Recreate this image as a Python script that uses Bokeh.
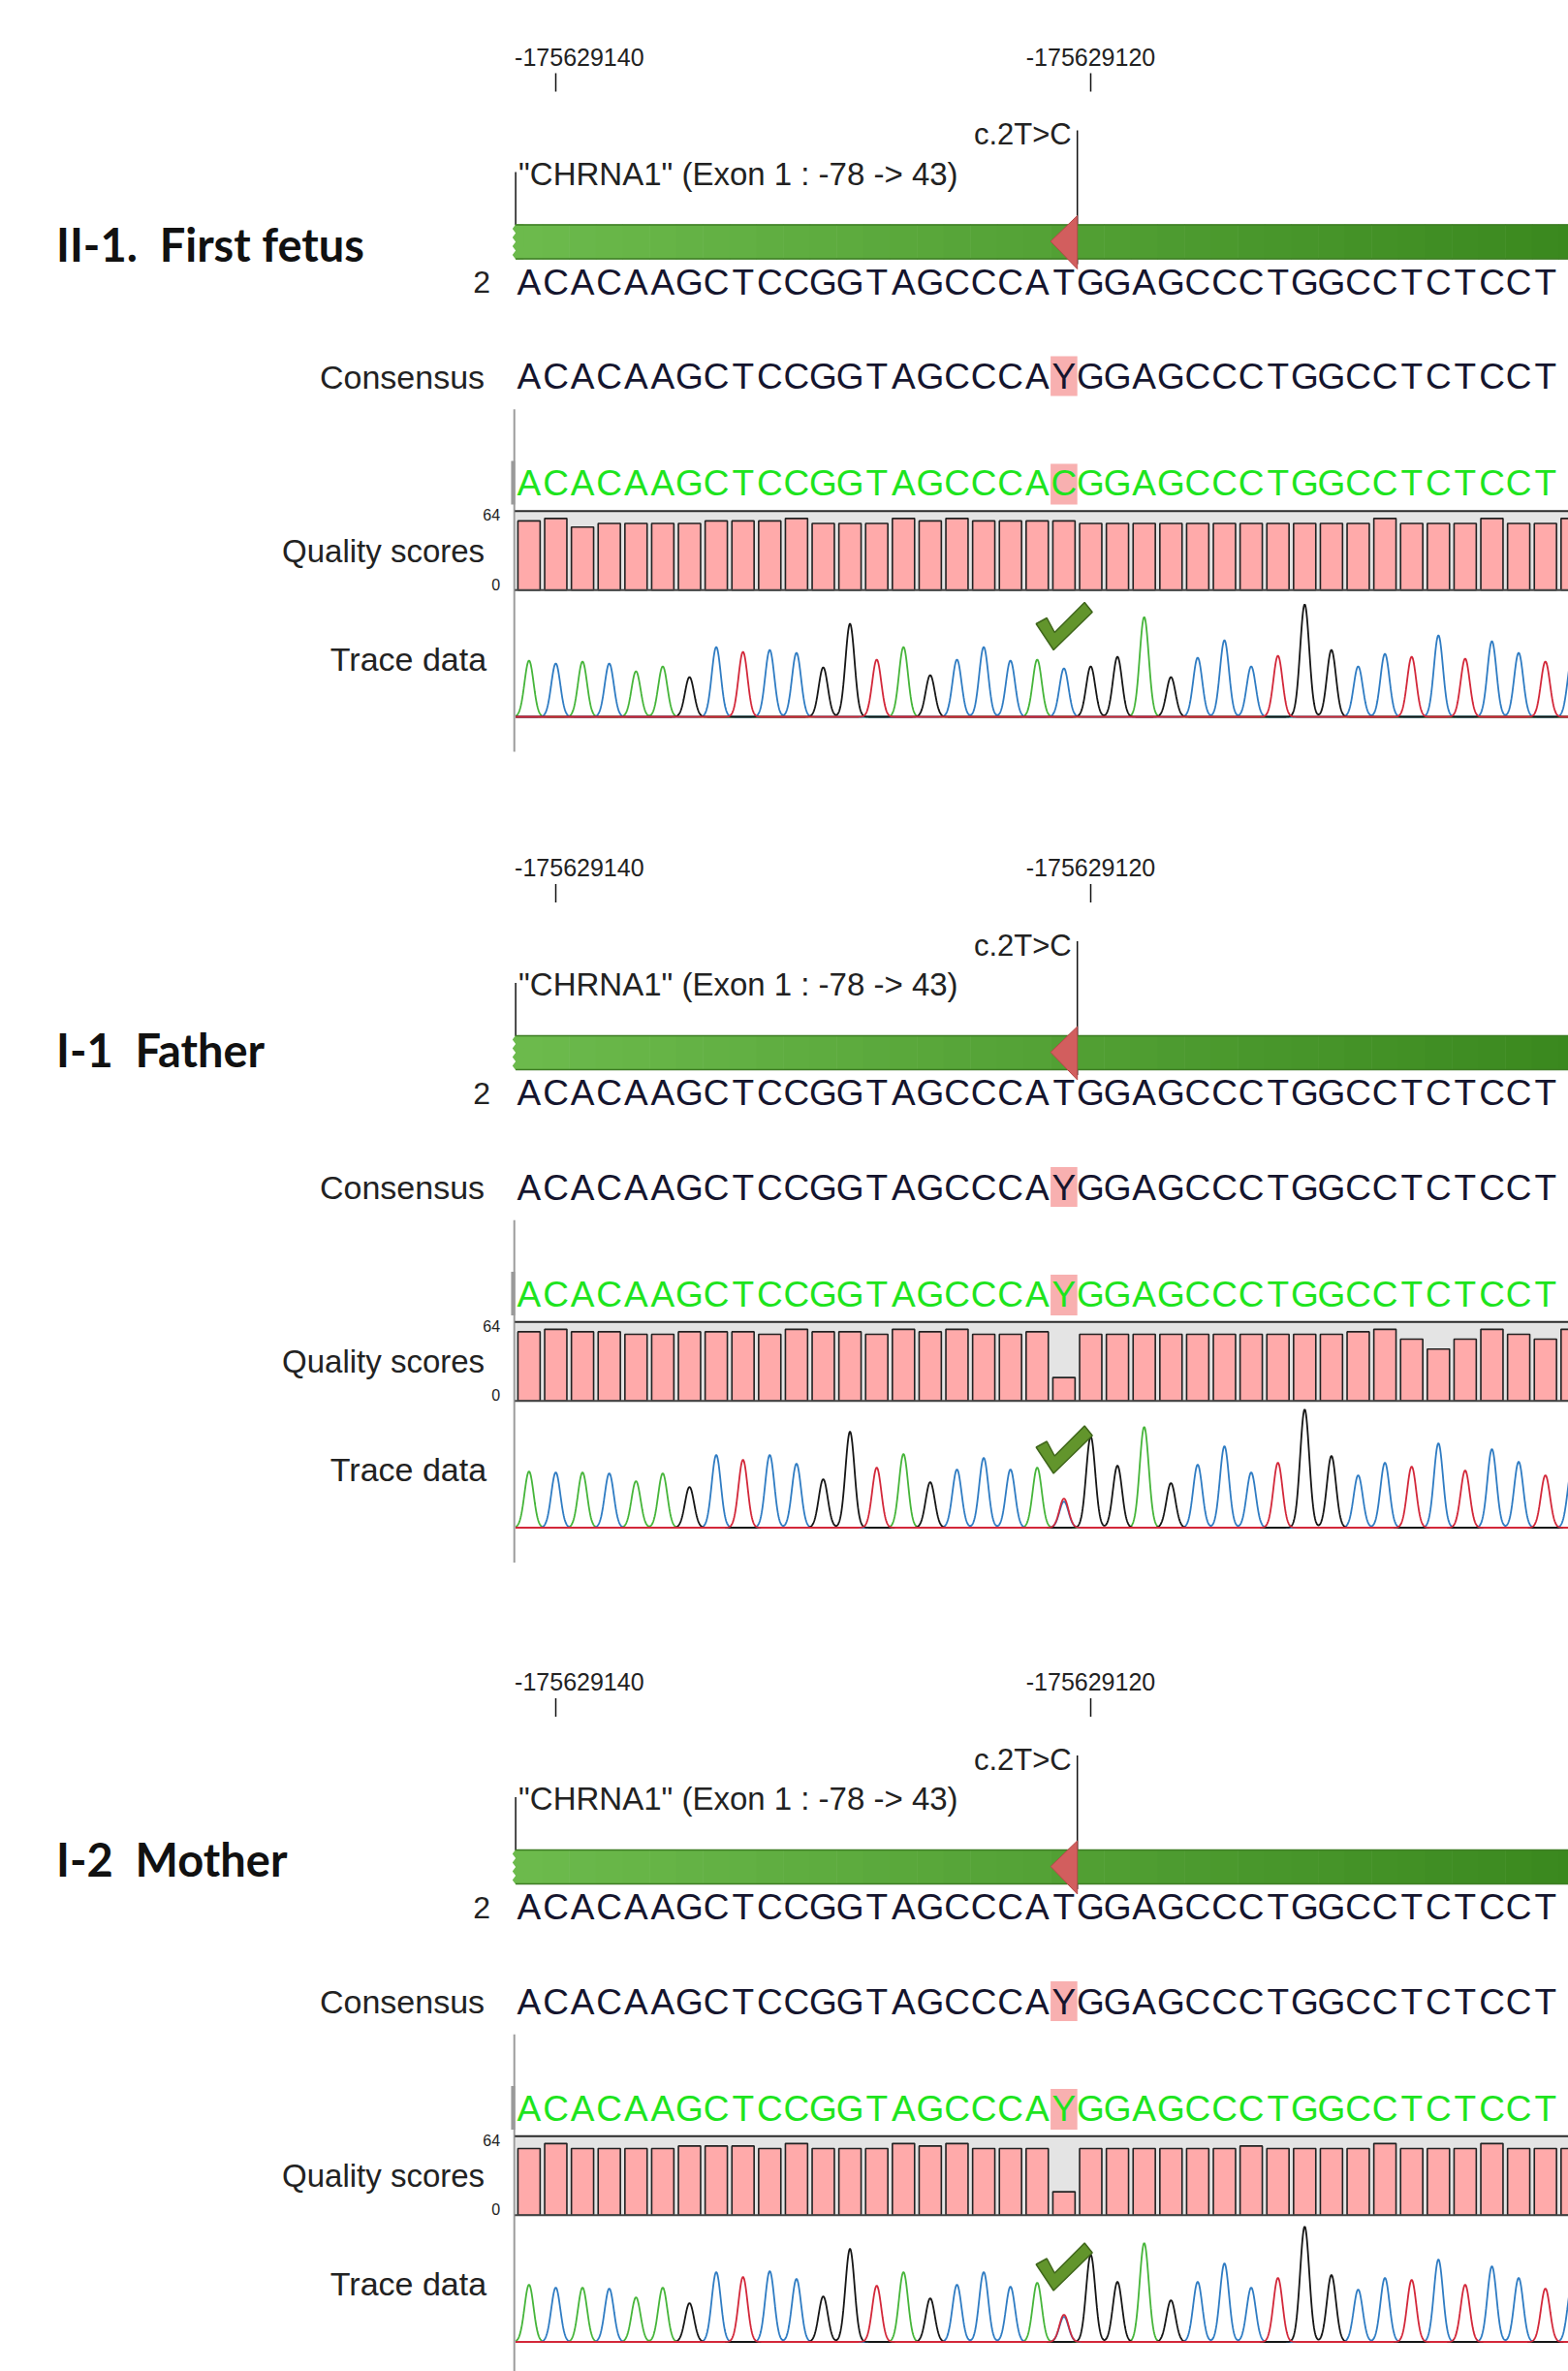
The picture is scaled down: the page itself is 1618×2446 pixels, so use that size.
import numpy as np
from bokeh.plotting import figure
from bokeh.models import Range1d
from bokeh.core.properties import value
from bokeh.embed import file_html
from bokeh.resources import INLINE

# ---------------- data ----------------
sample_labels = ["II-1. \u00a0First fetus", "I-1 \u00a0Father", "I-2 \u00a0Mother"]
reference_seq = "ACACAAGCTCCGGTAGCCCATGGAGCCCTGGCCTCTCCTC"
consensus_seq = "ACACAAGCTCCGGTAGCCCAYGGAGCCCTGGCCTCTCCTC"
read_seqs = [
    "ACACAAGCTCCGGTAGCCCACGGAGCCCTGGCCTCTCCTC",
    "ACACAAGCTCCGGTAGCCCAYGGAGCCCTGGCCTCTCCTC",
    "ACACAAGCTCCGGTAGCCCAYGGAGCCCTGGCCTCTCCTC",
]
sequence_number = "2"
first_base_coord = -175629141
ruler_ticks = [-175629140, -175629120]
exon_label = '"CHRNA1" (Exon 1 : -78 -> 43)'
exon_start_index = 0
variant_label = "c.2T>C"
variant_index = 20
quality_max = 64

quality_fetus = [56, 58, 51, 54, 54, 54, 54, 56, 56, 56, 58, 54, 54, 54, 58, 56, 58, 56, 56, 56,
                 56, 54, 54, 54, 54, 54, 54, 54, 54, 54, 54, 54, 58, 54, 54, 54, 58, 54, 54, 58]
quality_father = [56, 58, 56, 56, 54, 54, 56, 56, 56, 54, 58, 56, 56, 54, 58, 56, 58, 54, 54, 56,
                  19, 54, 54, 54, 54, 54, 54, 54, 54, 54, 54, 56, 58, 50, 42, 50, 58, 54, 50, 58]
quality_mother = [54, 58, 54, 54, 54, 54, 56, 56, 56, 54, 58, 54, 54, 54, 58, 56, 58, 54, 54, 54,
                  19, 54, 54, 54, 54, 54, 54, 56, 54, 54, 54, 54, 58, 54, 54, 54, 58, 54, 54, 54]

peak_channels = "ACACAAGCTCCGGTAGCCCACGGAGCCCTGGCCTCTCCTC"
peak_fetus = [58, 55, 57, 55, 47, 52, 41, 72, 67, 69, 66, 51, 96, 59, 72, 43, 59, 72, 58, 59,
              50, 52, 62, 103, 41, 61, 79, 52, 63, 116, 69, 52, 65, 62, 84, 60, 78, 66, 57, 62]
peak_father = [58, 57, 57, 56, 48, 56, 42, 75, 70, 75, 66, 50, 99, 62, 76, 47, 60, 72, 60, 62,
               27, 94, 64, 104, 46, 65, 84, 57, 67, 122, 74, 54, 67, 63, 87, 59, 81, 68, 54, 62]
peak_mother = [59, 56, 56, 55, 46, 56, 40, 72, 67, 73, 65, 47, 96, 58, 72, 45, 59, 72, 57, 61,
               26, 90, 62, 102, 43, 62, 81, 56, 66, 119, 69, 54, 66, 64, 85, 59, 78, 66, 55, 60]
secondary_peaks = [[], [(20, "T", 30)], [(20, "T", 28)]]
check_height = [69, 56, 53]

qualities = [quality_fetus, quality_father, quality_mother]
peaks = [peak_fetus, peak_father, peak_mother]

# ---------------- layout / style ----------------
W, H = 1618, 2446
BOTTOM = H
PX0 = 531.6          # page x of the first base's left edge
PITCH = 27.6         # pixels per base
PANEL_OFF = [0, 836.5, 1676.5]
LABEL_CENTERS = [251, 1082.5, 1917.5]

SANS = value("Liberation Sans")
BOLD = value("Lato")
TXT = "#222222"
SEQ_COL = "#15152e"
READ_COL = "#1ee41e"
HL_COL = "#f8b0b0"
CH_COL = {"A": "#46b53a", "C": "#2f7cc3", "G": "#161616", "T": "#d3283a"}

Q_ZERO, Q_TOP = 608.3, 526.7
Q_PPU = (Q_ZERO - Q_TOP) / quality_max
T_ZERO = 739.0


def track_range(y_zero, ppu):
    s = -(BOTTOM - y_zero) / ppu
    return Range1d(start=s, end=s + H / ppu)


ranges = {}
for k, off in enumerate(PANEL_OFF):
    ranges[f"q{k}"] = track_range(Q_ZERO + off, Q_PPU)
    ranges[f"t{k}"] = track_range(T_ZERO + off, 1.0)

p = figure(width=W, height=H,
           x_range=Range1d(-PX0 / PITCH, (W - PX0) / PITCH),
           y_range=Range1d(BOTTOM, 0),
           output_backend="svg", toolbar_location=None, tools="",
           x_axis_location=None, y_axis_location=None,
           min_border=0, outline_line_color=None,
           background_fill_color="white", border_fill_color="white")
p.grid.visible = False
p.extra_y_ranges = ranges

n = len(reference_seq)
idx = np.arange(n)
centers = idx + 0.5
# letters whose glyph fits fully inside the view
n_vis = int((W - PX0) / PITCH - 0.95) + 1


def lerp(c1, c2, t):
    return "#%02x%02x%02x" % tuple(int(round(a + (b - a) * t)) for a, b in zip(c1, c2))


def mtext(x, y, text, size, color=TXT, align="center", font=SANS, **kw):
    p.text(x=x, y=y, text=text, text_font=font, text_font_size=size, text_color=color,
           text_align=align, text_baseline="middle", **kw)


for k, off in enumerate(PANEL_OFF):
    qn, tn = f"q{k}", f"t{k}"

    # sample label
    mtext([0], [LABEL_CENTERS[k]], [sample_labels[k]], "47px", color="#111111", align="left",
          font=BOLD, text_font_style="bold", x_offset=57.5 - PX0)

    # ruler
    tick_x = [t - first_base_coord + 0.5 for t in ruler_ticks]
    p.segment(x0=tick_x, x1=tick_x, y0=[75 + off] * 2, y1=[94 + off] * 2,
              line_color="#111111", line_width=1.5)
    for t, tx in zip(ruler_ticks, tick_x):
        label = "%d" % t
        if tx - 2.4 < 0:
            mtext([0], [58.3 + off], [label], "25px", align="left", x_offset=-1)
        else:
            mtext([tx], [58.3 + off], [label], "25px", align="center")

    # variant annotation line + label
    vx = variant_index + 1
    p.segment(x0=[vx], x1=[vx], y0=[134 + off], y1=[272 + off], line_color="#111111", line_width=1.5)
    mtext([vx], [138.3 + off], [variant_label], "31px", align="right", x_offset=-6)

    # exon annotation line + label
    ex = exon_start_index
    p.segment(x0=[ex], x1=[ex], y0=[177 + off], y1=[232 + off], line_color="#111111", line_width=1.5)
    mtext([ex], [178.5 + off], [exon_label], "33px", align="left", x_offset=3)

    # green exon bar (gradient as strips)
    bar_top, bar_bot = 231 + off, 267 + off
    cols = [lerp((108, 186, 76), (58, 136, 30), i / (n - 1)) for i in idx]
    p.quad(left=idx, right=idx + 1.02, top=[bar_top] * n, bottom=[bar_bot] * n,
           fill_color=cols, line_color=None)
    zz_y = np.linspace(bar_top, bar_bot, 9)
    zz_x = [0.0 if j % 2 == 0 else -0.12 for j in range(9)]
    p.patch(x=[0.3] + zz_x + [0.3], y=[bar_top] + list(zz_y) + [bar_bot],
            fill_color=cols[0], line_color=None)
    p.segment(x0=[0, 0], x1=[n + 1, n + 1], y0=[bar_top + 0.5, bar_bot - 0.5],
              y1=[bar_top + 0.5, bar_bot - 0.5], line_color="#3e7d24", line_width=1.5)
    # variant arrow
    p.patch(x=[variant_index + 1, variant_index + 1, variant_index],
            y=[222 + off, 277 + off, 248.5 + off],
            fill_color="#d25e5e", line_color="#b54848", line_width=1)

    # reference sequence row
    mtext([0], [290.8 + off], [sequence_number], "32px", align="right", x_offset=-26)
    mtext(centers[:n_vis], [290.8 + off] * n_vis, list(reference_seq[:n_vis]), "37px", color=SEQ_COL)

    # consensus row
    p.quad(left=[variant_index], right=[variant_index + 1], top=[367 + off], bottom=[408 + off],
           fill_color=HL_COL, line_color=None)
    mtext([0], [388.3 + off], ["Consensus"], "34px", align="right", x_offset=-32)
    mtext(centers[:n_vis], [388.3 + off] * n_vis, list(consensus_seq[:n_vis]), "37px", color=SEQ_COL)

    # read row
    p.segment(x0=[-0.05], x1=[-0.05], y0=[421.7 + off], y1=[775 + off],
              line_color="#9c9c9c", line_width=2)
    p.quad(left=[-0.17], right=[-0.02], top=[475 + off], bottom=[520 + off],
           fill_color="#9a9a9a", line_color=None)
    p.quad(left=[variant_index], right=[variant_index + 1], top=[478 + off], bottom=[520 + off],
           fill_color=HL_COL, line_color=None)
    mtext(centers[:n_vis], [498.3 + off] * n_vis, list(read_seqs[k][:n_vis]), "37px", color=READ_COL)

    # quality scores
    p.quad(left=[0], right=[n + 1], bottom=[0], top=[quality_max], y_range_name=qn,
           fill_color="#e4e4e4", line_color=None)
    p.quad(left=idx + 0.085, right=idx + 0.915, bottom=[0] * n, top=qualities[k], y_range_name=qn,
           fill_color="#ffaaaa", line_color="#222222", line_width=1.6)
    p.segment(x0=[-0.03, -0.03], x1=[n + 1, n + 1], y0=[quality_max, 0], y1=[quality_max, 0],
              y_range_name=qn, line_color=["#2a2a2a", "#444444"], line_width=2)
    mtext([0, 0], [quality_max, 0], ["%d" % quality_max, "0"], "16px", align="right",
          x_offset=-16, y_offset=[4, -6], y_range_name=qn)
    mtext([0], [567.5 + off], ["Quality scores"], "33px", align="right", x_offset=-32)

    # trace data
    mtext([0], [679 + off], ["Trace data"], "34px", align="right", x_offset=-30)
    xs = np.linspace(0, n, 2401)
    sigma = 0.17
    curves = {c: np.zeros_like(xs) for c in "ACGT"}
    for i, (c, h) in enumerate(zip(peak_channels, peaks[k])):
        curves[c] += h * np.exp(-((xs - (i + 0.5)) ** 2) / (2 * sigma ** 2))
    for (i, c, h) in secondary_peaks[k]:
        curves[c] += h * np.exp(-((xs - (i + 0.5)) ** 2) / (2 * sigma ** 2))
    for c in "ACGT":
        p.line(x=xs, y=curves[c], y_range_name=tn, line_color=CH_COL[c], line_width=1.8)

    # check mark
    ax = variant_index + 0.11
    hb = check_height[k]
    cx = [ax - 0.65, ax - 0.25, ax + 0.04, ax + 1.16, ax + 1.45, ax]
    cy = [hb + 27, hb + 33, hb + 18, hb + 49, hb + 39, hb]
    p.patch(x=cx, y=cy, y_range_name=tn, fill_color="#62952c", line_color="#3f661b", line_width=1.5)

open("out.html", "w").write(file_html(p, INLINE))
